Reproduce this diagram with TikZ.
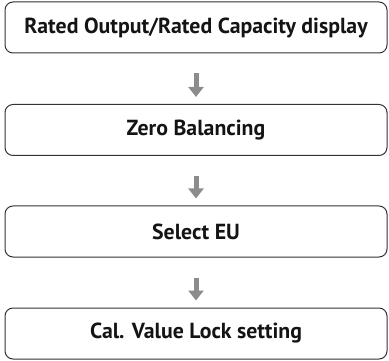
\documentclass[tikz,border=0pt]{standalone}
\usepackage{fontspec}
\setmainfont{PT Sans}
\usepackage{xcolor}
\usetikzlibrary{arrows.meta}

\definecolor{boxline}{HTML}{333333}
\definecolor{flowgray}{HTML}{8C8C8C}

\begin{document}
\begin{tikzpicture}[x=1pt,y=1pt,
  every node/.style={font=\fontsize{21.8}{24}\selectfont\bfseries,text=black!92},
  bx/.style={draw=boxline,line width=1pt,rounded corners=8pt,minimum width=382pt,minimum height=51pt,inner sep=0pt},
  flow/.style={draw=flowgray,line width=5pt,-{Triangle[width=15pt,length=10pt]},shorten <=20pt,shorten >=7pt}]
 \useasboundingbox (0,0) rectangle (389,-361);
 \node[bx] (rated) at (196,-27.5) {Rated Output/Rated Capacity display};
 \node[bx] (zero)  at (196,-130)  {Zero Balancing};
 \node[bx] (eu)    at (196,-231.5) {Select EU};
 \node[bx] (lock)  at (196,-333.5) {Cal. Value Lock setting};
 \foreach \a/\b in {rated/zero,zero/eu,eu/lock}
   \draw[flow] (\a) -- (\b);
\end{tikzpicture}
\end{document}
